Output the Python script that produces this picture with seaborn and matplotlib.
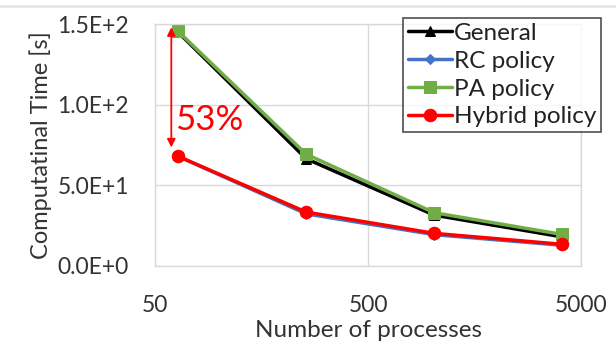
import matplotlib
matplotlib.use("Agg")
import matplotlib.pyplot as plt
import seaborn as sns
import pandas as pd
from matplotlib.lines import Line2D

# data
processes = [64, 256, 1024, 4096]
general = [145.0, 66.5, 31.5, 18.0]
rc_policy = [68.0, 32.3, 19.4, 12.8]
pa_policy = [145.5, 69.3, 33.0, 19.5]
hybrid_policy = [68.0, 33.4, 20.2, 13.4]

series_names = ["General", "RC policy", "PA policy", "Hybrid policy"]
series_values = [general, rc_policy, pa_policy, hybrid_policy]
colors = ["#000000", "#4472C4", "#70AD47", "#FF0000"]
markers = ["^", "D", "s", "o"]
msizes = [7, 5, 9, 9]

sns.set_style("white")
plt.rcParams['font.family'] = ['Lato', 'DejaVu Sans']

fig = plt.figure(figsize=(6.16, 3.49), dpi=100)
ax = fig.add_axes([0.252, 0.238, 0.691, 0.693])

for name, vals, c, m, ms in zip(series_names, series_values, colors, markers, msizes):
    df = pd.DataFrame({"x": processes, "y": vals})
    sns.lineplot(data=df, x="x", y="y", ax=ax, color=c, marker=m, markersize=ms,
                 markeredgecolor=c, linewidth=2.5, label=name)

ax.set_xscale("log")
ax.set_xlim(50, 5000)
ax.set_ylim(0, 150)
ax.set_xticks([50, 500, 5000])
ax.set_xticklabels(["50", "500", "5000"])
ax.set_yticks([0, 50, 100, 150])
ax.set_yticklabels(["0.0E+0", "5.0E+1", "1.0E+2", "1.5E+2"])
ax.minorticks_off()
ax.tick_params(axis="both", length=0, labelsize=16.5, colors="#333333")
ax.tick_params(axis="y", pad=19)
ax.tick_params(axis="x", pad=21)
ax.grid(True, color="#d9d9d9", linewidth=1)
for sp in ax.spines.values():
    sp.set_color("#d9d9d9")
    sp.set_linewidth(1)

ax.set_xlabel("Number of processes", fontsize=17.5, color="#333333", labelpad=3)
ax.set_ylabel("Computatinal Time [s]", fontsize=17, color="#333333", labelpad=4)

# 53% annotation
ax.annotate("", xy=(59.5, 73.5), xytext=(59.5, 148),
            arrowprops=dict(arrowstyle="<|-|>", color="#FF0000", lw=1.3,
                            mutation_scale=12, shrinkA=0, shrinkB=0))
ax.text(62, 90.5, "53%", color="#FF0000", fontsize=25, va="center", ha="left")

leg = ax.legend(loc="upper left", bbox_to_anchor=(403 / 616, 1 - 18 / 349),
                bbox_transform=fig.transFigure, fontsize=17.5, frameon=True,
                fancybox=False, borderpad=0.2, labelspacing=0.28,
                handlelength=1.8, handletextpad=0.1, borderaxespad=0)
leg.get_frame().set_edgecolor("#222222")
leg.get_frame().set_linewidth(1.2)
for t in leg.get_texts():
    t.set_color("#222222")

# thin grey line at the very top of the image
fig.add_artist(Line2D([0, 1], [1 - 6 / 349, 1 - 6 / 349], transform=fig.transFigure,
                      color="#e6e6e6", linewidth=2))

fig.savefig("out.png", dpi=100)
